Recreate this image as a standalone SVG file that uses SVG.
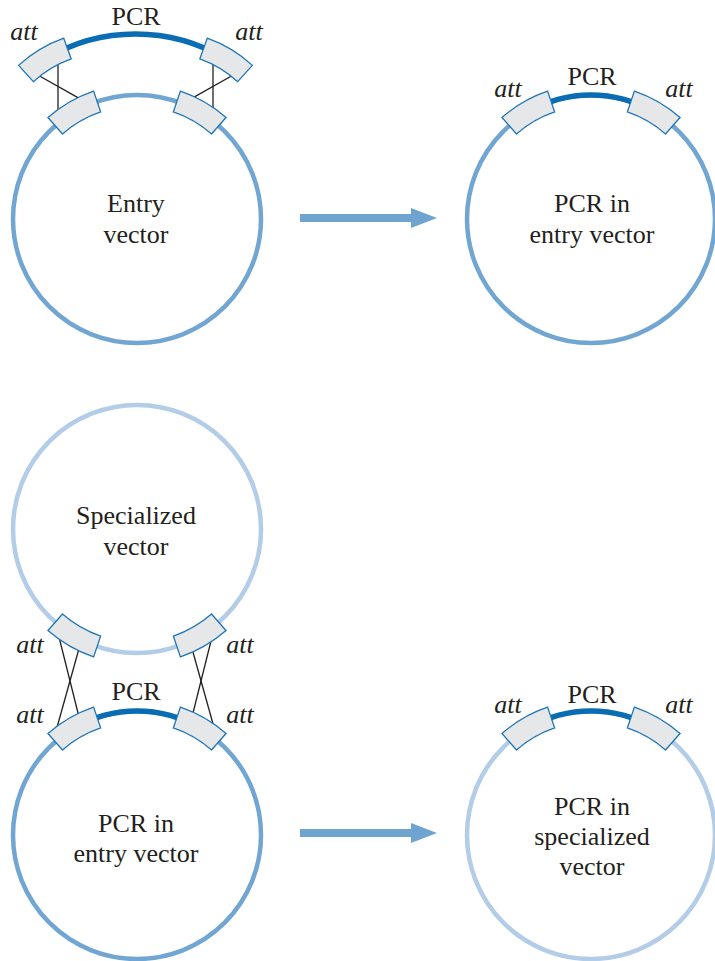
<svg xmlns="http://www.w3.org/2000/svg" xmlns:xlink="http://www.w3.org/1999/xlink" width="715" height="961" viewBox="0 0 715 961">
<style>
.vec{fill:none;stroke:#72a6d2;stroke-width:4.5}
.spec{fill:none;stroke:#b3cde8;stroke-width:4.5}
.pcr{fill:none;stroke:#0a6db3;stroke-width:5.5}
.box{fill:#e6e7e9;stroke:#1f75b5;stroke-width:1.3}
.ln{stroke:#231f20;stroke-width:1.3;fill:none}
.arr{fill:#6fa3d0}
text{font-family:'Liberation Serif','Times New Roman','DejaVu Serif',serif;font-size:26px;fill:#231f20;text-anchor:middle}
.att{font-style:italic}
</style>
<defs>
<path id="box" class="box" d="M-26.34,-8.41 A135,135 0 0 1 26.34,-8.41 L22.05,13.17 A113,113 0 0 0 -22.05,13.17 Z"/>
</defs>
<rect x="0" y="0" width="715" height="961" fill="#ffffff"/>

<g id="connectors">
  <line class="ln" x1="58" y1="60" x2="58" y2="113"/>
  <line class="ln" x1="36" y1="74" x2="81" y2="99.4"/>
  <line class="ln" x1="213" y1="60" x2="213" y2="113"/>
  <line class="ln" x1="235" y1="74" x2="190" y2="99.4"/>
  <line class="ln" x1="58" y1="633" x2="79.25" y2="718"/>
  <line class="ln" x1="80" y1="645" x2="56" y2="731"/>
  <line class="ln" x1="213" y1="633" x2="191.75" y2="718"/>
  <line class="ln" x1="191" y1="645" x2="215" y2="731"/>
  <path class="arr" d="M300,214 H411 V208 L437,218 L411,228 V222 H300 Z"/>
  <path class="arr" d="M300,829 H411 V823 L437,833 L411,843 V837 H300 Z"/>
</g>

<g id="pcr-fragment">
  <path class="pcr" d="M45.5,58.9 A175,175 0 0 1 225.5,58.9"/>
  <use xlink:href="#box" transform="translate(45.5,59) rotate(-31)"/>
  <use xlink:href="#box" transform="translate(225.5,59) rotate(31)"/>
  <text x="136" y="25" font-family="Liberation Serif, serif">PCR</text>
  <text class="att" x="24" y="40" font-family="Liberation Serif, serif">att</text>
  <text class="att" x="249" y="40" font-family="Liberation Serif, serif">att</text>
</g>

<g id="entry-vector">
  <circle class="vec" cx="137" cy="219" r="124"/>
  <use xlink:href="#box" transform="translate(75,111.6) rotate(-30)"/>
  <use xlink:href="#box" transform="translate(199,111.6) rotate(30)"/>
  <text x="136" y="212">Entry</text>
  <text x="136" y="243">vector</text>
</g>

<g id="pcr-in-entry-vector-1">
  <circle class="vec" cx="591" cy="219" r="124"/>
  <path class="pcr" d="M529,111.6 A124,124 0 0 1 653,111.6"/>
  <use xlink:href="#box" transform="translate(529,111.6) rotate(-30)"/>
  <use xlink:href="#box" transform="translate(653,111.6) rotate(30)"/>
  <text x="592" y="85">PCR</text>
  <text class="att" x="508" y="97">att</text>
  <text class="att" x="679" y="97">att</text>
  <text x="592" y="212">PCR in</text>
  <text x="592" y="243">entry vector</text>
</g>

<g id="specialized-vector">
  <circle class="spec" cx="137" cy="529" r="124"/>
  <use xlink:href="#box" transform="translate(75,636.4) rotate(-150)"/>
  <use xlink:href="#box" transform="translate(199,636.4) rotate(150)"/>
  <text x="136" y="524">Specialized</text>
  <text x="136" y="555">vector</text>
  <text class="att" x="30" y="653">att</text>
  <text class="att" x="240" y="653">att</text>
</g>

<g id="pcr-in-entry-vector-2">
  <circle class="vec" cx="137" cy="835" r="124"/>
  <path class="pcr" d="M75,727.6 A124,124 0 0 1 199,727.6"/>
  <use xlink:href="#box" transform="translate(75,727.6) rotate(-30)"/>
  <use xlink:href="#box" transform="translate(199,727.6) rotate(30)"/>
  <text x="136" y="700">PCR</text>
  <text class="att" x="30" y="723">att</text>
  <text class="att" x="240" y="723">att</text>
  <text x="136" y="832">PCR in</text>
  <text x="136" y="862">entry vector</text>
</g>

<g id="pcr-in-specialized-vector">
  <circle class="spec" cx="591" cy="835" r="124"/>
  <path class="pcr" d="M529,727.6 A124,124 0 0 1 653,727.6"/>
  <use xlink:href="#box" transform="translate(529,727.6) rotate(-30)"/>
  <use xlink:href="#box" transform="translate(653,727.6) rotate(30)"/>
  <text x="592" y="703">PCR</text>
  <text class="att" x="508" y="713">att</text>
  <text class="att" x="679" y="713">att</text>
  <text x="592" y="815">PCR in</text>
  <text x="592" y="845">specialized</text>
  <text x="592" y="875">vector</text>
</g>
</svg>
